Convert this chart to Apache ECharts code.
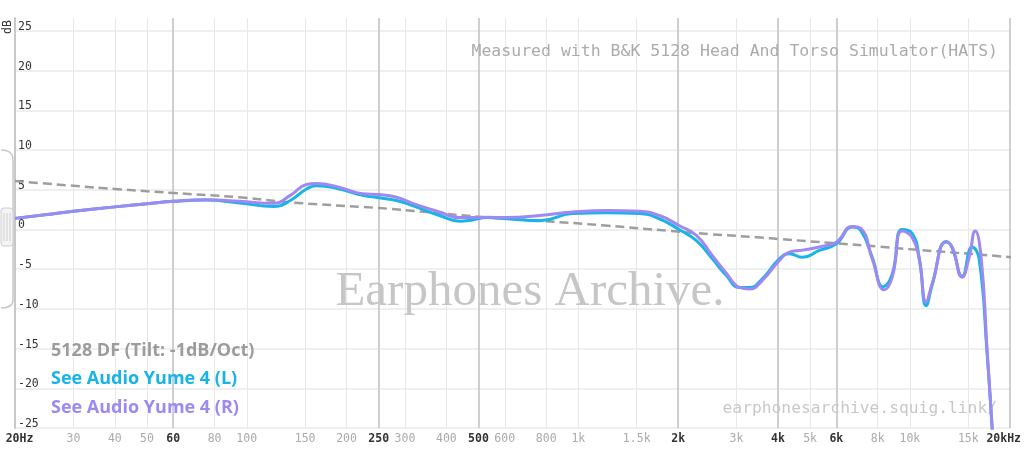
<!DOCTYPE html>
<html>
<head>
<meta charset="utf-8">
<script src="https://cdn.jsdelivr.net/npm/echarts@6/dist/echarts.min.js"></script>
<style>
html,body{margin:0;padding:0;background:#fff;}
#chart{width:1024px;height:450px;}
</style>
</head>
<body>
<div id="chart"></div>
<script>
// ---- Data ----
const tickValues = [20,30,40,50,60,80,100,150,200,250,300,400,500,600,800,1000,1500,2000,3000,4000,5000,6000,8000,10000,15000,20000];
const tickLabels = ['20Hz','30','40','50','60','80','100','150','200','250','300','400','500','600','800','1k','1.5k','2k','3k','4k','5k','6k','8k','10k','15k','20kHz'];
const boldTicks = [20,60,250,500,2000,4000,6000,20000];
const majorLines = [60,250,500,2000,4000,6000,20000];

const freqTarget = [20,30,40,60,95,137,250,348,500,760,1200,1900,2500,3500,4000,6000,8000,10000,15000,20000];
const dbTarget = [6.1,5.5,5.1,4.6,4.05,3.4,2.7,2.2,1.6,1.1,0.5,-0.2,-0.6,-1.0,-1.2,-1.75,-2.15,-2.5,-3.05,-3.5];

const freqL = [20,25,30,40,50,60,75,95,120,135,151,162,190,223,250,282,315,380,437,478,527,605,760,955,1209,1520,1746,2000,2256,2521,2777,3040,3257,3565,4012,4298,4704,5292,5954,6650,7079,7638,8244,8775,9403,10079,10576,11106,11577,12757,13296,14251,15271,16031,16944,17544,18500,20000];
const splL = [1.4,1.9,2.3,2.85,3.25,3.55,3.7,3.35,2.9,3.65,5.1,5.5,5.1,4.3,4.0,3.65,3.0,1.76,1.05,1.2,1.5,1.35,1.1,2.0,2.1,2.0,1.35,0.0,-1.4,-3.7,-5.8,-7.3,-7.3,-6.2,-3.7,-3.06,-3.5,-2.64,-1.8,0.3,-0.2,-3.5,-7.2,-5.6,0.0,-0.5,-3.5,-9.6,-7.0,-1.5,-2.3,-5.9,-2.2,-3.7,-15.6,-24.9,-40,-50];

const freqR = [20,25,30,40,50,60,75,95,120,135,151,162,190,223,250,282,315,380,437,478,527,605,760,955,1209,1520,1746,2000,2256,2521,2777,3040,3257,3565,4012,4298,4704,5292,5954,6650,7079,7638,8305,8775,9403,10079,10576,11106,11577,12757,13296,14251,14957,15594,16255,16944,17544,18500,20000];
const splR = [1.4,1.9,2.3,2.85,3.25,3.55,3.75,3.55,3.3,4.3,5.66,5.8,5.3,4.5,4.4,4.06,3.3,2.2,1.5,1.5,1.55,1.5,1.76,2.2,2.4,2.3,1.76,0.5,-0.75,-3.3,-5.5,-7.3,-7.5,-6.4,-3.9,-2.85,-2.6,-2.2,-1.6,0.38,0.1,-3.7,-7.6,-6.0,-0.2,-1.0,-3.7,-9.1,-6.8,-1.6,-2.2,-6.0,-3.5,-0.2,-3.5,-15.2,-24.9,-40,-50];

const nameTarget = '5128 DF (Tilt: -1dB/Oct)';
const nameL = 'See Audio Yume 4 (L)';
const nameR = 'See Audio Yume 4 (R)';

// ---- Chart ----
const MONO = '"DejaVu Sans Mono", "Liberation Mono", monospace';
const colTarget = '#9e9e9e', colL = '#17b4e8', colR = '#9d89f1';

function tickIndex(v){
  let best = 0, bd = Infinity;
  tickValues.forEach((t,i)=>{ const d = Math.abs(Math.log(v/t)); if (d < bd){bd = d; best = i;} });
  return best;
}
const pair = (fs, vs) => fs.map((f,i)=>[f, vs[i]]);

const chart = echarts.init(document.getElementById('chart'), null, {renderer:'canvas'});
const gridPos = {left:15, right:13, bottom:22};
const option = {
  animation:false,
  backgroundColor:'#ffffff',
  grid:[
    Object.assign({top:18}, gridPos),
    Object.assign({top:31}, gridPos)
  ],
  xAxis:[
    { type:'log', logBase:10, min:20, max:20000, gridIndex:0, position:'bottom',
      axisLine:{show:false},
      axisTick:{show:false, customValues:tickValues},
      splitLine:{show:true, lineStyle:{color:'#e8e8e8', width:1}},
      axisLabel:{
        show:true, margin:5, customValues:tickValues,
        formatter:function(v){
          const i = tickIndex(v);
          let s = boldTicks.indexOf(tickValues[i])>=0 ? 'b' : 'n';
          if (i===0) s='bf';
          if (i===tickValues.length-1) s='bl';
          return '{'+s+'|'+tickLabels[i]+'}';
        },
        rich:{
          b:{fontFamily:MONO, fontSize:11.5, fontWeight:'bold', color:'#333333'},
          n:{fontFamily:MONO, fontSize:11.5, color:'#aaaaaa'},
          bf:{fontFamily:MONO, fontSize:11.5, fontWeight:'bold', color:'#333333', padding:[0,0,0,9]},
          bl:{fontFamily:MONO, fontSize:11.5, fontWeight:'bold', color:'#333333', padding:[0,12,0,0]}
        }
      }
    },
    { type:'log', logBase:10, min:20, max:20000, gridIndex:0, position:'bottom',
      axisLine:{show:false},
      axisTick:{show:false, customValues:majorLines},
      axisLabel:{show:false},
      splitLine:{show:true, lineStyle:{color:'#c6c6c6', width:1.6}}
    },
    { type:'log', logBase:10, min:20, max:20000, gridIndex:1, show:false }
  ],
  yAxis:[
    { type:'value', min:0, max:1, gridIndex:0,
      axisLine:{show:true, lineStyle:{color:'#c8c8c8', width:2}},
      axisTick:{show:false}, axisLabel:{show:false}, splitLine:{show:false}
    },
    { type:'value', min:-25, max:25, interval:5, gridIndex:1,
      axisLine:{show:false}, axisTick:{show:false},
      splitLine:{show:true, lineStyle:{color:'#efefef', width:2}},
      axisLabel:{inside:true, margin:3, align:'left', verticalAlign:'bottom', lineHeight:8,
        fontFamily:MONO, fontSize:11.5, color:'#333333'}
    }
  ],
  legend:{
    orient:'vertical', left:41, top:337, icon:'none', itemWidth:0, itemHeight:18, itemGap:10.3,
    selectedMode:false,
    textStyle:{fontFamily:'"Open Sans", "Noto Sans", sans-serif', fontSize:18, fontWeight:'bold', lineHeight:18},
    data:[
      {name:nameTarget, textStyle:{color:'#9c9c9c'}},
      {name:nameL, textStyle:{color:colL}},
      {name:nameR, textStyle:{color:colR}}
    ]
  },
  graphic:[
    {type:'text', x:530, y:292, z:1, silent:true,
      style:{text:'Earphones Archive.', font:'49px "Liberation Serif", "DejaVu Serif", serif', fill:'#c6c6c6', align:'center', verticalAlign:'middle'}},
    {type:'text', x:998, y:52, z:1, silent:true,
      style:{text:'Measured with B&K 5128 Head And Torso Simulator(HATS)', font:'16.5px '+MONO, fill:'#ababab', align:'right', verticalAlign:'middle'}},
    {type:'text', x:997, y:409, z:1, silent:true,
      style:{text:'earphonesarchive.squig.link/', font:'16.3px '+MONO, fill:'#c8c8c8', align:'right', verticalAlign:'middle'}},
    {type:'text', x:8, y:27, rotation:Math.PI/2, z:5, silent:true,
      style:{text:'dB', font:'11.5px '+MONO, fill:'#333333', align:'center', verticalAlign:'middle'}},
    {type:'bezierCurve', z:5, silent:true, shape:{x1:1, y1:150, cpx1:13, cpy1:150, x2:13, y2:160},
      style:{stroke:'#c8c8c8', fill:null, lineWidth:1.5}},
    {type:'line', z:5, silent:true, shape:{x1:13, y1:160, x2:13, y2:300},
      style:{stroke:'#c8c8c8', lineWidth:1.5}},
    {type:'bezierCurve', z:5, silent:true, shape:{x1:13, y1:300, cpx1:13, cpy1:308, x2:1, y2:308},
      style:{stroke:'#c8c8c8', fill:null, lineWidth:1.5}},
    {type:'rect', z:5, silent:true, shape:{x:1, y:208, width:12, height:38, r:3},
      style:{stroke:'#cccccc', fill:'#f4f4f4', lineWidth:1}},
    {type:'line', z:6, silent:true, shape:{x1:4, y1:213, x2:4, y2:241}, style:{stroke:'#cfcfcf', lineWidth:1}},
    {type:'line', z:6, silent:true, shape:{x1:7, y1:213, x2:7, y2:241}, style:{stroke:'#cfcfcf', lineWidth:1}},
    {type:'line', z:6, silent:true, shape:{x1:10, y1:213, x2:10, y2:241}, style:{stroke:'#cfcfcf', lineWidth:1}}
  ],
  series:[
    { name:nameTarget, type:'line', xAxisIndex:2, yAxisIndex:1, data:pair(freqTarget, dbTarget),
      smooth:0.5, showSymbol:false, symbol:'none', color:colTarget,
      lineStyle:{color:colTarget, width:2.5, type:[9,5]}, z:2 },
    { name:nameL, type:'line', xAxisIndex:2, yAxisIndex:1, data:pair(freqL, splL),
      smooth:0.5, showSymbol:false, symbol:'none', color:colL,
      lineStyle:{color:colL, width:3}, z:3 },
    { name:nameR, type:'line', xAxisIndex:2, yAxisIndex:1, data:pair(freqR, splR),
      smooth:0.5, showSymbol:false, symbol:'none', color:colR,
      lineStyle:{color:colR, width:3}, z:4 }
  ]
};
chart.setOption(option);
</script>
</body>
</html>
